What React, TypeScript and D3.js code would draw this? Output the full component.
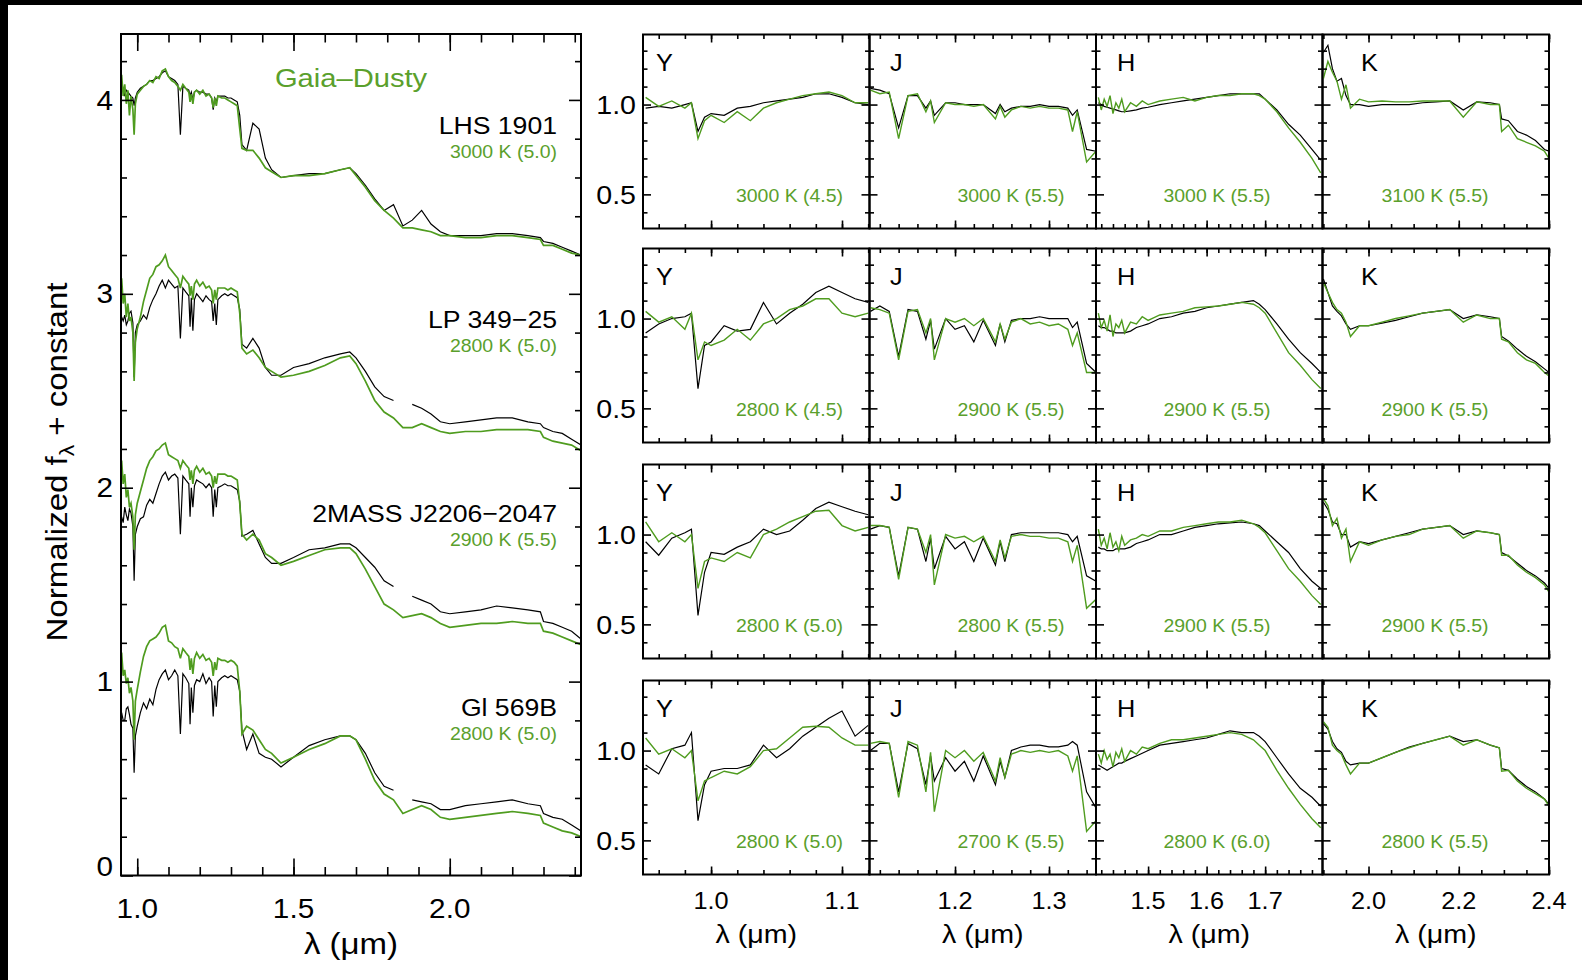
import { useEffect, useRef } from "react";
import * as d3 from "d3";

// ---- left panel: full spectra (normalized, offset added at draw time) ----
const bigWave = [
  0.95, 0.955, 0.96, 0.965, 0.97, 0.975, 0.98, 0.986, 0.99, 0.994,
  1.0, 1.01, 1.02, 1.03, 1.04, 1.05, 1.06, 1.07, 1.08, 1.09,
  1.1, 1.11, 1.12, 1.13, 1.138, 1.146, 1.155, 1.165, 1.169, 1.173,
  1.178, 1.183, 1.19, 1.2, 1.21, 1.22, 1.23, 1.238, 1.243, 1.248,
  1.253, 1.258, 1.27, 1.28, 1.29, 1.3, 1.31, 1.32, 1.328, 1.335,
  1.35, 1.37, 1.39, 1.41, 1.43, 1.46, 1.5, 1.55, 1.6, 1.65, 1.68, 1.7, 1.73, 1.76, 1.79, 1.82,
  1.85, 1.88, 1.91, 1.94, 1.97, 2.0, 2.05, 2.1, 2.15, 2.2, 2.25, 2.29, 2.3, 2.33, 2.36, 2.39, 2.42,
];

const lhsMod = [
  1.13, 1.02, 1.08, 0.98, 1.05, 0.92, 1.02, 0.95, 0.82, 0.98,
  1.03, 1.05, 1.07, 1.08, 1.1, 1.09, 1.12, 1.11, 1.15, 1.16,
  1.12, 1.1, 1.09, 1.07, 1.05, 1.08, 1.06, 1.04, 0.99, 1.03,
  0.98, 1.04, 1.05, 1.03, 1.05, 1.02, 1.03, 1.01, 0.96, 1.01,
  0.97, 1.02, 1.01, 1.01, 1.0, 0.99, 0.98, 0.97, 0.85, 0.75,
  0.74, 0.74, 0.7, 0.65, 0.63, 0.6, 0.61, 0.61, 0.62, 0.64, 0.65, 0.61, 0.55, 0.48, 0.43, 0.39,
  0.34, 0.34, 0.33, 0.32, 0.3, 0.3, 0.29, 0.29, 0.3, 0.3, 0.29, 0.28, 0.25, 0.25, 0.23, 0.21, 0.2,
];
const lhsObs = [
  1.08, 1.06, 1.02, 1.05, 1.04, 1.03, 1.02, 1.01, 0.97, 1.01,
  1.04, 1.06, 1.07, 1.08, 1.1, 1.1, 1.11, 1.12, 1.14, 1.15,
  1.12, 1.11, 1.1, 1.08, 0.82, 1.07, 1.06, 1.05, 1.02, 1.04,
  1.0, 1.04, 1.05, 1.04, 1.04, 1.03, 1.03, 1.01, 0.95, 1.01,
  0.99, 1.02, 1.02, 1.02, 1.01, 1.01, 1.0, 0.99, 0.92, 0.77,
  0.74, 0.88, 0.85, 0.7, 0.64, 0.6, 0.61, 0.62, 0.62, 0.64, 0.65, 0.62, 0.56, 0.49, 0.43, 0.46,
  0.35, 0.38, 0.43, 0.36, 0.32, 0.3, 0.3, 0.3, 0.31, 0.31, 0.3, 0.29, 0.27, 0.26, 0.24, 0.22, 0.2,
];
const lpMod = [
  1.08, 0.95, 1.0, 0.88, 0.95, 0.86, 0.88, 0.8, 0.55, 0.75,
  0.82, 0.88, 0.96, 1.02, 1.08, 1.1, 1.14, 1.15, 1.17, 1.2,
  1.14, 1.12, 1.1, 1.08, 1.03, 1.09, 1.07, 1.05, 0.99, 1.04,
  0.97, 1.05, 1.07, 1.04, 1.06, 1.03, 1.04, 1.02, 0.95, 1.02,
  0.97, 1.03, 1.03, 1.03, 1.02, 1.03, 1.02, 1.01, 0.9, 0.72,
  0.69, 0.71, 0.67, 0.62, 0.6, 0.57, 0.58, 0.6, 0.63, 0.67, 0.68, 0.64, 0.55, 0.45, 0.39, 0.36,
  0.31, 0.31, 0.33, 0.31, 0.29, 0.28, 0.29, 0.29, 0.3, 0.3, 0.3, 0.29, 0.26, 0.24, 0.23, 0.22, 0.19,
];
const lpObs = [
  0.88, 0.86, 0.89, 0.84, 0.86, 0.9, 0.91, 0.85, 0.57, 0.8,
  0.84, 0.86, 0.89, 0.87, 0.93, 0.97, 1.0, 1.04, 1.07, 1.03,
  1.07, 1.05, 1.03, 1.04, 0.77, 1.03, 1.01, 0.99, 0.83, 0.98,
  0.81, 0.97, 1.0, 0.98, 0.96, 0.99, 0.97, 0.96, 0.86, 0.95,
  0.84, 0.97, 0.99, 1.0, 0.99, 1.0, 0.99, 0.98, 0.92, 0.74,
  0.72, 0.77, 0.72, 0.62, 0.58, 0.58, 0.62, 0.64, 0.67, 0.69, 0.7, 0.67, 0.6, 0.52, 0.47, 0.45,
  null, 0.43, 0.41, 0.38, 0.34, 0.33, 0.34, 0.35, 0.36, 0.36, 0.34, 0.33, 0.31, 0.29, 0.28, 0.25, 0.22,
];
const tmMod = [
  1.14, 1.02, 1.07, 0.95, 0.99, 0.9, 0.92, 0.85, 0.68, 0.86,
  0.92, 0.98, 1.04, 1.1, 1.14, 1.16, 1.19, 1.2, 1.22, 1.23,
  1.17, 1.16, 1.15, 1.14, 1.1, 1.14, 1.12, 1.1, 1.04, 1.09,
  1.02, 1.09, 1.11, 1.08, 1.1, 1.07, 1.08, 1.06, 1.0, 1.06,
  1.02, 1.07, 1.07, 1.07, 1.06, 1.06, 1.05, 1.04, 0.92, 0.76,
  0.73, 0.76, 0.73, 0.66, 0.64, 0.6, 0.62, 0.65, 0.68, 0.69, 0.69, 0.66, 0.58, 0.49, 0.4, 0.37,
  0.33, 0.34, 0.35, 0.33, 0.3, 0.28, 0.29, 0.3, 0.3, 0.31, 0.3, 0.3, 0.26, 0.25, 0.23, 0.21, 0.19,
];
const tmObs = [
  0.85, 0.82, 0.9, 0.86, 0.83, 0.89, 0.87, 0.8, 0.52, 0.76,
  0.8, 0.84, 0.85, 0.91, 0.94, 0.92, 0.97, 1.02, 1.06, 1.08,
  1.04, 1.06, 1.07, 1.05, 0.76, 1.06, 1.04, 1.02, 0.85, 1.0,
  0.9, 1.01, 1.04, 1.03, 1.02, 1.0, 1.02, 1.0, 0.85, 0.99,
  0.9, 1.0, 1.01, 1.02, 1.01, 1.01, 1.0, 0.99, 0.93, 0.75,
  0.76, 0.78, 0.71, 0.64, 0.61, 0.61, 0.64, 0.68, 0.69, 0.71, 0.71, 0.69, 0.64, 0.59, 0.52, 0.49,
  null, 0.44, 0.42, 0.4, 0.36, 0.35, 0.36, 0.37, 0.39, 0.38, 0.37, 0.36, 0.31, 0.3, 0.28, 0.26, 0.22,
];
const glMod = [
  1.15, 1.03, 1.06, 0.99, 1.02, 0.94, 0.97, 0.9, 0.7, 0.9,
  0.96, 1.05, 1.13, 1.18, 1.21, 1.22, 1.23, 1.25, 1.28, 1.29,
  1.21, 1.2, 1.18, 1.17, 1.12, 1.17, 1.15, 1.13, 1.06, 1.12,
  1.04, 1.12, 1.15, 1.12, 1.14, 1.11, 1.12, 1.1, 1.03, 1.1,
  1.06, 1.12, 1.11, 1.11, 1.1, 1.11, 1.1, 1.08, 0.95, 0.73,
  0.77, 0.75, 0.7, 0.65, 0.63, 0.58, 0.61, 0.65, 0.68, 0.72, 0.72, 0.7, 0.6, 0.49, 0.42, 0.39,
  0.32, 0.34, 0.36, 0.34, 0.3, 0.29, 0.3, 0.31, 0.32, 0.33, 0.32, 0.31, 0.27, 0.25, 0.23, 0.22, 0.2,
];
const glObs = [
  0.84, 0.8, 0.8, 0.86, 0.87, 0.83, 0.78, 0.76, 0.53, 0.72,
  0.77, 0.84, 0.89, 0.86, 0.91, 0.88, 0.96, 1.01, 1.04, 1.06,
  1.01, 1.03, 1.06, 1.03, 0.73, 1.04, 1.02, 0.99, 0.78, 0.97,
  0.84, 0.98, 1.01, 1.0, 1.04, 0.99, 1.02, 1.0, 0.82, 0.98,
  0.87, 1.0, 1.02, 1.03, 1.02, 1.03, 1.02, 1.01, 0.95, 0.75,
  0.65, 0.73, 0.63, 0.61, 0.6, 0.56, 0.61, 0.67, 0.7, 0.72, 0.72, 0.7, 0.63, 0.53, 0.46, 0.44,
  null, 0.39, 0.38, 0.37, 0.34, 0.34, 0.36, 0.37, 0.38, 0.39, 0.37, 0.36, 0.32, 0.3, 0.29, 0.26, 0.23,
];

const objectNames = ["LHS 1901", "LP 349\u221225", "2MASS J2206\u22122047", "Gl 569B"];
const bestFits = ["3000 K (5.0)", "2800 K (5.0)", "2900 K (5.5)", "2800 K (5.0)"];
const offsets = [3, 2, 1, 0];

const bigXMajor = [1.0, 1.5, 2.0];
const bigXMinor = [1.0, 1.1, 1.2, 1.3, 1.4, 1.5, 1.6, 1.7, 1.8, 1.9, 2.0, 2.1, 2.2, 2.3, 2.4];
const bigYMajor = [0, 1, 2, 3, 4];
const bigYMinor = [0.2, 0.4, 0.6, 0.8, 1.2, 1.4, 1.6, 1.8, 2.2, 2.4, 2.6, 2.8, 3.2, 3.4, 3.6, 3.8, 4.2];

// ---- right panels: band-by-band (rows = objects) ----
const bands = ["Y", "J", "H", "K"];
const yWave = [0.95, 0.96, 0.97, 0.98, 0.985, 0.99, 0.995, 1.0, 1.01, 1.02, 1.03, 1.04, 1.05, 1.06, 1.07, 1.08, 1.09, 1.1, 1.11, 1.12];
const jWave = [1.11, 1.12, 1.13, 1.14, 1.15, 1.16, 1.169, 1.174, 1.178, 1.19, 1.2, 1.21, 1.22, 1.23, 1.243, 1.248, 1.253, 1.26, 1.27, 1.28, 1.29, 1.3, 1.31, 1.32, 1.325, 1.33, 1.34, 1.35];
const hWave = [1.415, 1.42, 1.425, 1.43, 1.435, 1.44, 1.445, 1.45, 1.455, 1.46, 1.47, 1.48, 1.49, 1.5, 1.52, 1.54, 1.56, 1.58, 1.6, 1.62, 1.64, 1.66, 1.68, 1.69, 1.7, 1.72, 1.74, 1.76, 1.78, 1.795];
const kWave = [1.9, 1.91, 1.92, 1.93, 1.94, 1.95, 1.96, 1.98, 2.0, 2.03, 2.06, 2.09, 2.12, 2.15, 2.18, 2.21, 2.24, 2.27, 2.29, 2.295, 2.31, 2.33, 2.35, 2.37, 2.39, 2.4];

const yMod = [
  [1.04, 0.99, 1.02, 0.98, 1.01, 0.81, 0.91, 0.94, 0.9, 0.96, 0.91, 0.98, 1.01, 1.03, 1.05, 1.06, 1.07, 1.05, 1.01, 1.01],
  [1.04, 0.98, 1.01, 0.94, 1.03, 0.77, 0.87, 0.85, 0.88, 0.94, 0.88, 0.97, 1.0, 1.05, 1.07, 1.11, 1.11, 1.03, 1.01, 1.03],
  [1.07, 0.96, 1.01, 0.96, 1.0, 0.7, 0.85, 0.87, 0.85, 0.9, 0.87, 1.0, 1.03, 1.07, 1.1, 1.13, 1.135, 1.05, 1.02, 1.04],
  [1.07, 0.98, 1.01, 0.96, 1.0, 0.72, 0.83, 0.85, 0.885, 0.87, 0.91, 1.0, 1.01, 1.07, 1.13, 1.135, 1.13, 1.07, 1.03, 1.03],
];
const yObs = [
  [0.98, 0.99, 0.98, 1.0, 1.01, 0.85, 0.93, 0.95, 0.94, 0.98, 0.99, 1.01, 1.02, 1.03, 1.04, 1.06, 1.06, 1.04, 1.01, 1.0],
  [0.92, 0.97, 1.0, 1.01, 1.03, 0.61, 0.85, 0.87, 0.96, 0.93, 0.94, 1.09, 0.97, 1.03, 1.08, 1.145, 1.18, 1.145, 1.11, 1.09],
  [0.96, 0.885, 0.98, 1.01, 1.03, 0.55, 0.79, 0.9, 0.89, 0.93, 0.96, 1.03, 1.0, 1.02, 1.08, 1.145, 1.18, 1.155, 1.13, 1.11],
  [0.92, 0.87, 1.01, 1.03, 1.1, 0.61, 0.81, 0.885, 0.9, 0.9, 0.92, 1.03, 0.96, 1.01, 1.08, 1.13, 1.18, 1.22, 1.08, 1.14],
];
const jMod = [
  [1.08, 1.06, 1.07, 0.81, 1.05, 1.06, 0.96, 1.02, 0.9, 1.01, 1.0, 1.0, 0.99, 1.0, 0.92, 0.99, 0.93, 0.97, 0.99, 0.98, 0.99, 0.98, 0.98, 0.97, 0.85, 0.96, 0.68, 0.74],
  [1.06, 1.05, 1.03, 0.77, 1.04, 1.05, 0.92, 1.0, 0.77, 1.0, 0.98, 1.0, 0.96, 1.0, 0.87, 0.97, 0.885, 0.98, 1.0, 0.97, 0.98, 0.96, 0.97, 0.94, 0.85, 0.92, 0.7, 0.7],
  [1.05, 1.05, 1.04, 0.75, 1.04, 1.03, 0.9, 1.0, 0.72, 1.0, 0.98, 0.99, 0.96, 0.99, 0.85, 0.97, 0.87, 0.99, 1.0, 0.99, 0.99, 0.98, 0.98, 0.96, 0.85, 0.94, 0.59, 0.64],
  [1.04, 1.05, 1.04, 0.74, 1.05, 1.03, 0.77, 0.99, 0.66, 1.0, 0.96, 1.0, 0.94, 0.99, 0.83, 0.96, 0.85, 0.98, 1.0, 0.99, 1.0, 0.99, 1.0, 0.97, 0.885, 0.97, 0.55, 0.61],
];
const jObs = [
  [1.09, 1.08, 1.06, 0.87, 1.05, 1.05, 0.98, 1.02, 0.94, 1.01, 1.01, 1.0, 1.0, 1.0, 0.95, 1.0, 0.96, 0.98, 0.99, 0.99, 1.0, 0.99, 0.99, 0.98, 0.94, 0.97, 0.75, 0.74],
  [1.04, 1.07, 1.04, 0.79, 1.05, 1.04, 0.885, 0.99, 0.83, 1.0, 0.94, 0.96, 0.87, 0.99, 0.85, 0.97, 0.87, 0.99, 1.0, 1.0, 1.01, 1.0, 1.0, 1.0, 0.95, 0.98, 0.75, 0.7],
  [1.03, 1.05, 1.04, 0.77, 1.04, 1.03, 0.85, 0.98, 0.81, 0.99, 0.92, 0.96, 0.85, 0.98, 0.83, 0.96, 0.85, 1.0, 1.01, 1.01, 1.01, 1.01, 1.01, 1.0, 0.96, 0.99, 0.77, 0.74],
  [1.0, 1.04, 1.04, 0.77, 1.04, 1.01, 0.81, 0.97, 0.83, 0.96, 0.885, 0.94, 0.83, 0.97, 0.81, 0.94, 0.85, 1.0, 1.02, 1.03, 1.03, 1.02, 1.02, 1.03, 1.05, 1.03, 0.77, 0.68],
];
const hMod = [
  [1.04, 0.97, 1.03, 0.99, 1.05, 0.95, 1.01, 0.98, 1.03, 0.96, 1.01, 0.99, 1.02, 1.0, 1.02, 1.03, 1.04, 1.02, 1.04, 1.05, 1.05, 1.06, 1.06, 1.05, 1.03, 0.96, 0.87, 0.79, 0.7, 0.62],
  [1.03, 0.95, 0.99, 0.93, 1.02, 0.9, 0.97, 0.95, 0.99, 0.92, 0.98, 0.97, 1.01, 0.99, 1.02, 1.03, 1.04, 1.06, 1.065, 1.07, 1.08, 1.09, 1.08, 1.06, 1.03, 0.92, 0.81, 0.74, 0.66, 0.61],
  [1.03, 0.94, 0.98, 0.92, 1.01, 0.93, 0.96, 0.91, 0.99, 0.94, 0.97, 0.98, 1.0, 0.99, 1.02, 1.02, 1.04, 1.05, 1.06, 1.07, 1.07, 1.08, 1.06, 1.04, 1.01, 0.91, 0.81, 0.74, 0.66, 0.61],
  [0.98, 0.93, 1.0, 0.95, 0.98, 0.91, 0.99, 0.96, 1.01, 0.94, 1.0, 0.98, 1.02, 1.01, 1.04, 1.06, 1.06, 1.07, 1.08, 1.09, 1.1, 1.09, 1.06, 1.03, 1.0, 0.89, 0.79, 0.7, 0.62, 0.57],
];
const hObs = [
  [1.01, 1.0, 0.99, 0.985, 0.98, 0.975, 0.97, 0.965, 0.96, 0.96, 0.965, 0.97, 0.98, 0.985, 1.0, 1.01, 1.02, 1.03, 1.04, 1.05, 1.06, 1.06, 1.06, 1.06, 1.03, 0.97, 0.89, 0.83, 0.75, 0.69],
  [0.96, 0.95, 0.95, 0.94, 0.93, 0.93, 0.92, 0.92, 0.92, 0.92, 0.93, 0.95, 0.96, 0.97, 1.0, 1.01, 1.03, 1.04, 1.06, 1.07, 1.08, 1.09, 1.1, 1.08, 1.05, 0.97, 0.885, 0.81, 0.75, 0.7],
  [0.93, 0.92, 0.92, 0.91, 0.91, 0.91, 0.92, 0.92, 0.92, 0.92, 0.93, 0.95, 0.96, 0.97, 1.0, 1.0, 1.02, 1.04, 1.05, 1.06, 1.065, 1.07, 1.06, 1.05, 1.02, 0.96, 0.9, 0.81, 0.74, 0.7],
  [0.92, 0.91, 0.9, 0.89, 0.9, 0.91, 0.92, 0.93, 0.93, 0.94, 0.955, 0.97, 0.985, 1.0, 1.03, 1.04, 1.05, 1.06, 1.07, 1.09, 1.11, 1.1, 1.1, 1.08, 1.05, 0.96, 0.87, 0.79, 0.74, 0.69],
];
const kMod = [
  [1.145, 1.24, 1.18, 1.13, 1.03, 1.11, 0.98, 1.03, 1.015, 1.02, 1.015, 1.015, 1.02, 1.02, 1.02, 0.93, 1.015, 1.0, 1.0, 0.85, 0.885, 0.81, 0.79, 0.77, 0.74, 0.7],
  [1.2, 1.145, 1.09, 1.05, 1.03, 0.98, 0.9, 0.96, 0.96, 0.98, 1.0, 1.015, 1.03, 1.04, 1.05, 0.98, 1.02, 1.0, 1.0, 0.885, 0.87, 0.81, 0.77, 0.75, 0.7, 0.68],
  [1.2, 1.16, 1.05, 1.09, 0.98, 1.03, 0.85, 0.96, 0.94, 0.97, 0.99, 1.0, 1.03, 1.04, 1.05, 0.98, 1.02, 1.01, 1.0, 0.885, 0.885, 0.83, 0.79, 0.76, 0.72, 0.68],
  [1.16, 1.13, 1.03, 1.0, 0.98, 0.92, 0.87, 0.93, 0.93, 0.96, 0.99, 1.015, 1.04, 1.06, 1.08, 1.03, 1.06, 1.03, 1.015, 0.885, 0.89, 0.83, 0.79, 0.76, 0.73, 0.69],
];
const kObs = [
  [1.29, 1.33, 1.2, 1.13, 1.145, 1.05, 1.0, 1.0, 0.99, 1.0, 1.0, 1.0, 1.01, 1.015, 1.02, 0.97, 1.015, 1.01, 1.0, 0.92, 0.91, 0.85, 0.83, 0.8, 0.75, 0.74],
  [1.22, 1.145, 1.07, 1.04, 1.015, 0.97, 0.94, 0.96, 0.96, 0.975, 0.99, 1.01, 1.03, 1.04, 1.05, 1.0, 1.02, 1.01, 1.0, 0.9, 0.875, 0.83, 0.79, 0.76, 0.72, 0.7],
  [1.18, 1.14, 1.07, 1.06, 1.0, 1.0, 0.93, 0.96, 0.95, 0.97, 0.99, 1.01, 1.03, 1.04, 1.05, 1.0, 1.02, 1.01, 1.0, 0.9, 0.88, 0.84, 0.8, 0.77, 0.73, 0.7],
  [1.15, 1.12, 1.05, 1.01, 0.99, 0.94, 0.92, 0.93, 0.93, 0.96, 0.99, 1.02, 1.04, 1.06, 1.08, 1.05, 1.06, 1.03, 1.015, 0.9, 0.89, 0.84, 0.8, 0.77, 0.73, 0.7],
];
const bandFits = [
  ["3000 K (4.5)", "3000 K (5.5)", "3000 K (5.5)", "3100 K (5.5)"],
  ["2800 K (4.5)", "2900 K (5.5)", "2900 K (5.5)", "2900 K (5.5)"],
  ["2800 K (5.0)", "2800 K (5.5)", "2900 K (5.5)", "2900 K (5.5)"],
  ["2800 K (5.0)", "2700 K (5.5)", "2800 K (6.0)", "2800 K (5.5)"],
];
const bandDomains = [[0.948, 1.121], [1.109, 1.35], [1.411, 1.798], [1.898, 2.4]];
const bandXMajor = [[1.0, 1.1], [1.2, 1.3], [1.5, 1.6, 1.7], [2.0, 2.2, 2.4]];
const bandXMinor = [
  [0.96, 0.98, 1.0, 1.02, 1.04, 1.06, 1.08, 1.1, 1.12],
  [1.12, 1.14, 1.16, 1.18, 1.2, 1.22, 1.24, 1.26, 1.28, 1.3, 1.32, 1.34],
  [1.42, 1.44, 1.46, 1.48, 1.5, 1.52, 1.54, 1.56, 1.58, 1.6, 1.62, 1.64, 1.66, 1.68, 1.7, 1.72, 1.74, 1.76, 1.78],
  [1.9, 1.95, 2.0, 2.05, 2.1, 2.15, 2.2, 2.25, 2.3, 2.35, 2.4],
];
const smallYMajor = [0.5, 1.0];
const smallYMinor = [0.4, 0.6, 0.7, 0.8, 0.9, 1.1, 1.2, 1.3];

const W = 1582;
const H = 980;
const GREEN_LINE = "#4f9c1f";
const GREEN_TEXT = "#5aa02c";
const FONT = "'Liberation Sans', Arial, Helvetica, sans-serif";

export default function App() {
  const ref = useRef<SVGSVGElement | null>(null);

  useEffect(() => {
    if (!ref.current) return;
    const svg = d3.select(ref.current);
    svg.selectAll("*").remove();

    svg.append("rect").attr("width", W).attr("height", H).attr("fill", "#000");
    svg.append("rect").attr("x", 8).attr("y", 5).attr("width", W - 8).attr("height", H - 5).attr("fill", "#fff");

    const defs = svg.append("defs");

    // text with the slight horizontal stretch seen in the figure
    const txt = (g: any, x: number, y: number, s: string, size: number, anchor = "middle", fill = "#000") =>
      g
        .append("text")
        .attr("transform", `translate(${x},${y}) scale(1.1,1)`)
        .attr("text-anchor", anchor)
        .attr("font-size", size)
        .attr("fill", fill)
        .text(s);

    const ticks = (g: any, axis: any) => {
      g.call(axis);
      g.select(".domain").remove();
      g.selectAll("text").remove();
      g.selectAll("line").attr("stroke", "#000").attr("stroke-width", 1.6);
    };

    // ===== left panel =====
    const L = { x0: 121, x1: 581, y0: 34, y1: 875.5 };
    const x = d3.scaleLinear().domain([0.948, 2.42]).range([L.x0, L.x1]);
    const y = d3.scaleLinear().domain([0, 4.34]).range([L.y1, L.y0]);

    defs
      .append("clipPath")
      .attr("id", "clipL")
      .append("rect")
      .attr("x", L.x0)
      .attr("y", L.y0)
      .attr("width", L.x1 - L.x0)
      .attr("height", L.y1 - L.y0);

    const left = svg.append("g");
    const plot = left.append("g").attr("clip-path", "url(#clipL)");

    const series = [
      [lhsObs, lhsMod],
      [lpObs, lpMod],
      [tmObs, tmMod],
      [glObs, glMod],
    ];
    series.forEach(([obs, mod], i) => {
      const off = offsets[i];
      const line = d3
        .line<number | null>()
        .defined((v) => v != null)
        .x((_, j) => x(bigWave[j]))
        .y((v) => y((v as number) + off));
      plot.append("path").attr("d", line(obs)).attr("fill", "none").attr("stroke", "#000").attr("stroke-width", 1.2);
      plot.append("path").attr("d", line(mod)).attr("fill", "none").attr("stroke", GREEN_LINE).attr("stroke-width", 1.7);

      txt(left, 557, y(off + 1) + 34, objectNames[i], 24.2, "end");
      txt(left, 557, y(off + 1) + 58, bestFits[i], 17.7, "end", GREEN_TEXT);
    });

    // ticks: inward on all four sides
    ticks(left.append("g").attr("transform", `translate(0,${L.y1})`), d3.axisBottom(x).tickValues(bigXMajor).tickSize(-17));
    ticks(left.append("g").attr("transform", `translate(0,${L.y1})`), d3.axisBottom(x).tickValues(bigXMinor).tickSize(-8.5));
    ticks(left.append("g").attr("transform", `translate(0,${L.y0})`), d3.axisTop(x).tickValues(bigXMajor).tickSize(-17));
    ticks(left.append("g").attr("transform", `translate(0,${L.y0})`), d3.axisTop(x).tickValues(bigXMinor).tickSize(-8.5));
    ticks(left.append("g").attr("transform", `translate(${L.x0},0)`), d3.axisLeft(y).tickValues(bigYMajor).tickSize(-12));
    ticks(left.append("g").attr("transform", `translate(${L.x0},0)`), d3.axisLeft(y).tickValues(bigYMinor).tickSize(-6));
    ticks(left.append("g").attr("transform", `translate(${L.x1},0)`), d3.axisRight(y).tickValues(bigYMajor).tickSize(-12));
    ticks(left.append("g").attr("transform", `translate(${L.x1},0)`), d3.axisRight(y).tickValues(bigYMinor).tickSize(-6));

    left
      .append("rect")
      .attr("x", L.x0)
      .attr("y", L.y0)
      .attr("width", L.x1 - L.x0)
      .attr("height", L.y1 - L.y0)
      .attr("fill", "none")
      .attr("stroke", "#000")
      .attr("stroke-width", 2);

    bigXMajor.forEach((v) => txt(left, x(v), 918, v.toFixed(1), 27));
    bigYMajor.forEach((v) => txt(left, L.x0 - 8, y(v) + 9.6 - (v === 0 ? 9 : 0), String(v), 27, "end"));

    txt(left, 351, 87, "Gaia\u2013Dusty", 26.5, "middle", GREEN_TEXT);
    txt(left, 351, 954, "\u03bb (\u03bcm)", 30);

    const yt = left
      .append("text")
      .attr("transform", "translate(67,462) rotate(-90) scale(1.1,1)")
      .attr("text-anchor", "middle")
      .attr("font-size", 30)
      .attr("fill", "#000");
    yt.append("tspan").text("Normalized f");
    yt.append("tspan").attr("font-size", 21).attr("dy", 7).text("\u03bb");
    yt.append("tspan").attr("dy", -7).text(" + constant");

    // ===== right panels =====
    const colX = [643, 869.5, 1096, 1322.5];
    const colW = 226.5;
    const rowY = [34.5, 248.5, 464.5, 680.5];
    const rowH = 194;
    const letterDx = [13, 20.5, 21, 38.5];
    const fitDx = [146.5, 141.5, 121, 112.5];
    const waves = [yWave, jWave, hWave, kWave];
    const mods = [yMod, jMod, hMod, kMod];
    const obss = [yObs, jObs, hObs, kObs];

    const right = svg.append("g");

    rowY.forEach((ry, r) => {
      const sy = d3.scaleLinear().domain([0.31, 1.39]).range([ry + rowH, ry]);
      colX.forEach((cx, c) => {
        const sx = d3.scaleLinear().domain(bandDomains[c]).range([cx, cx + colW]);
        const id = `clip${r}${c}`;
        defs.append("clipPath").attr("id", id).append("rect").attr("x", cx).attr("y", ry).attr("width", colW).attr("height", rowH);
        const p = right.append("g").attr("clip-path", `url(#${id})`);
        const wv = waves[c];
        const line = d3
          .line<number>()
          .x((_, j) => sx(wv[j]))
          .y((v) => sy(v));
        p.append("path").attr("d", line(obss[c][r])).attr("fill", "none").attr("stroke", "#000").attr("stroke-width", 1.2);
        p.append("path").attr("d", line(mods[c][r])).attr("fill", "none").attr("stroke", GREEN_LINE).attr("stroke-width", 1.4);

        const g = right.append("g");
        ticks(g.append("g").attr("transform", `translate(0,${ry + rowH})`), d3.axisBottom(sx).tickValues(bandXMajor[c]).tickSize(-8));
        ticks(g.append("g").attr("transform", `translate(0,${ry + rowH})`), d3.axisBottom(sx).tickValues(bandXMinor[c]).tickSize(-4.5));
        ticks(g.append("g").attr("transform", `translate(0,${ry})`), d3.axisTop(sx).tickValues(bandXMajor[c]).tickSize(-8));
        ticks(g.append("g").attr("transform", `translate(0,${ry})`), d3.axisTop(sx).tickValues(bandXMinor[c]).tickSize(-4.5));
        ticks(g.append("g").attr("transform", `translate(${cx},0)`), d3.axisLeft(sy).tickValues(smallYMajor).tickSize(-8));
        ticks(g.append("g").attr("transform", `translate(${cx},0)`), d3.axisLeft(sy).tickValues(smallYMinor).tickSize(-4.5));
        ticks(g.append("g").attr("transform", `translate(${cx + colW},0)`), d3.axisRight(sy).tickValues(smallYMajor).tickSize(-8));
        ticks(g.append("g").attr("transform", `translate(${cx + colW},0)`), d3.axisRight(sy).tickValues(smallYMinor).tickSize(-4.5));

        g.append("rect")
          .attr("x", cx)
          .attr("y", ry)
          .attr("width", colW)
          .attr("height", rowH)
          .attr("fill", "none")
          .attr("stroke", "#000")
          .attr("stroke-width", 2);

        txt(g, cx + letterDx[c], ry + 36, bands[c], 23, "start");
        txt(g, cx + fitDx[c], ry + 167.5, bandFits[r][c], 17.7, "middle", GREEN_TEXT);

        if (c === 0) {
          smallYMajor.forEach((v) => txt(g, cx - 7, sy(v) + 9.5, v.toFixed(1), 26, "end"));
        }
        if (r === rowY.length - 1) {
          bandXMajor[c].forEach((v) => txt(g, sx(v), 909, v.toFixed(1), 23));
          txt(g, cx + colW / 2, 943, "\u03bb (\u03bcm)", 26);
        }
      });
    });
  }, []);

  return (
    <svg
      ref={ref}
      width={W}
      height={H}
      style={{ position: "absolute", left: 0, top: 0, fontFamily: FONT }}
    />
  );
}
